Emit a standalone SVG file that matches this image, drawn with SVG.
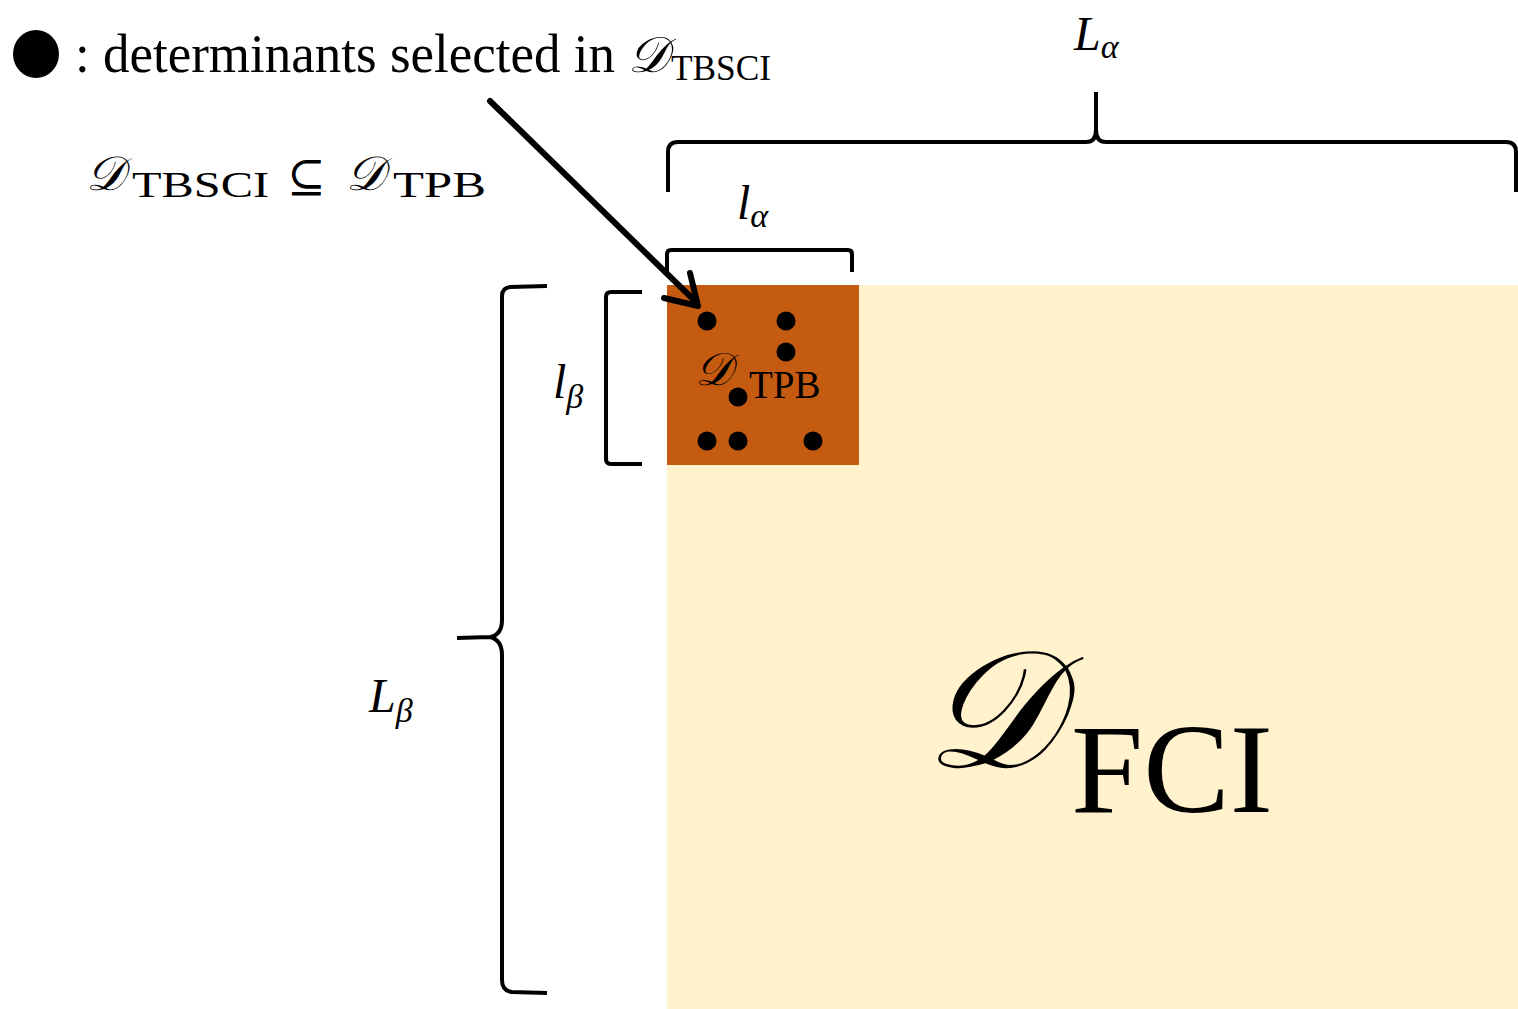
<svg xmlns="http://www.w3.org/2000/svg" width="1518" height="1009" viewBox="0 0 1518 1009">
<defs>
<style>
.br{fill:none;stroke:#000;stroke-width:4;stroke-linecap:butt;stroke-linejoin:round}
.i{font-style:italic}
.dot{fill:#000}
</style>
</defs>
<rect width="1518" height="1009" fill="#fff"/>
<g id="fci" font-family="Liberation Serif, Times New Roman, DejaVu Serif, serif">
<rect x="667" y="285" width="851" height="724" fill="#FFF2CC"/>
<text class="i" x="924" y="767" font-size="166">𝒟</text>
<text x="1071" y="812" font-size="128" textLength="202" lengthAdjust="spacingAndGlyphs">FCI</text>
</g>
<g id="tpb" font-family="Liberation Serif, Times New Roman, DejaVu Serif, serif">
<rect x="667" y="285" width="192" height="180" fill="#C55A11"/>
<text class="i" x="695" y="385" font-size="46">𝒟</text>
<text x="749" y="398" font-size="39">TPB</text>
<circle class="dot" cx="707" cy="321" r="9.5"/>
<circle class="dot" cx="786" cy="321" r="9.5"/>
<circle class="dot" cx="786" cy="352" r="9.5"/>
<circle class="dot" cx="738" cy="397" r="9.5"/>
<circle class="dot" cx="707" cy="441" r="9.5"/>
<circle class="dot" cx="738" cy="441" r="9.5"/>
<circle class="dot" cx="813" cy="441" r="9.5"/>
</g>
<g id="legend" font-family="Liberation Serif, Times New Roman, DejaVu Serif, serif">
<ellipse class="dot" cx="36" cy="54" rx="23" ry="24"/>
<text x="75" y="72" font-size="54" textLength="540" lengthAdjust="spacingAndGlyphs">: determinants selected in</text>
<text class="i" x="628" y="72" font-size="50">𝒟</text>
<text x="671" y="80" font-size="36" textLength="100" lengthAdjust="spacingAndGlyphs">TBSCI</text>
</g>
<g id="subset" font-family="Liberation Serif, Times New Roman, DejaVu Serif, serif">
<text class="i" x="86" y="190" font-size="48">𝒟</text>
<text x="132" y="197" font-size="36" textLength="137" lengthAdjust="spacingAndGlyphs">TBSCI</text>
<text x="287" y="192" font-size="46">⊆</text>
<text class="i" x="346" y="190" font-size="48">𝒟</text>
<text x="393" y="197" font-size="36" textLength="93" lengthAdjust="spacingAndGlyphs">TPB</text>
</g>
<g id="labels" font-family="Liberation Serif, Times New Roman, DejaVu Serif, serif">
<text class="i" x="1074" y="50" font-size="48">L<tspan font-size="34" dy="8">α</tspan></text>
<text class="i" x="737" y="219" font-size="48">l<tspan font-size="34" dy="8">α</tspan></text>
<text class="i" x="553" y="398" font-size="48">l<tspan font-size="34" dy="10">β</tspan></text>
<text class="i" x="369" y="712" font-size="48">L<tspan font-size="34" dy="10">β</tspan></text>
</g>
<g id="connectors">
<path class="br" d="M668,192 L668,152 Q668,142 678,142 L1086,142 Q1096,142 1096,130 L1096,92 M1096,130 Q1096,142 1106,142 L1506,142 Q1516,142 1516,152 L1516,192"/>
<path class="br" d="M667,272 L667,254 Q667,250 671,250 L848,250 Q852,250 852,254 L852,272"/>
<path class="br" d="M642,292 L611,292 Q606,292 606,297 L606,459 Q606,464 611,464 L642,464"/>
<path class="br" d="M547,286 L510,287 Q502,288 502,296 L502,620 Q502,635 490,637 L457,638 M490,637 Q502,640 502,655 L502,980 Q502,991 512,992 L547,993"/>
<path fill="none" stroke="#000" stroke-width="6" stroke-linecap="round" d="M490,101 L696,302"/>
<path fill="none" stroke="#000" stroke-width="6" stroke-linecap="round" stroke-linejoin="round" d="M664,298 L698,306 L690,273"/>
</g>
</svg>
